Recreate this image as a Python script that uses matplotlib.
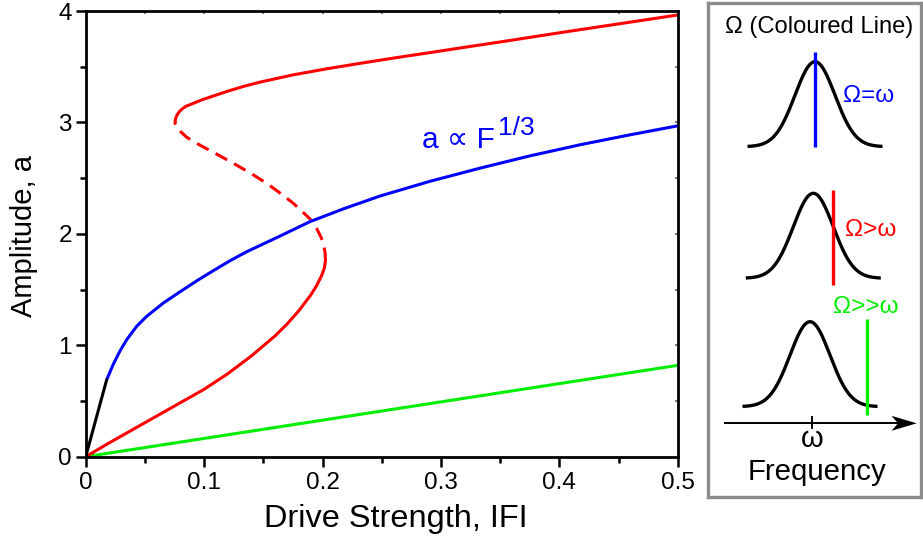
import numpy as np
import matplotlib
matplotlib.use("Agg")
import matplotlib.pyplot as plt
from matplotlib.patches import Polygon

plt.rcParams['font.family'] = ['Liberation Sans', 'DejaVu Sans']

# ---- response curves: drive strength |F| vs amplitude a ----
# linear (small drive) segment
lin_F = [0.0, 0.0177]
lin_a = [0.0, 0.69]

# Omega = omega branch (a ~ F^(1/3) at large drive)
blue_F = [0.0177, 0.0233, 0.029, 0.0346, 0.043, 0.0515, 0.0656, 0.0796, 0.094,
          0.1078, 0.122, 0.136, 0.150, 0.164, 0.1894, 0.219, 0.2486, 0.29,
          0.333, 0.375, 0.4175, 0.46, 0.5]
blue_a = [0.69, 0.83, 0.95, 1.05, 1.17, 1.26, 1.38, 1.48, 1.58,
          1.67, 1.76, 1.84, 1.91, 1.98, 2.11, 2.23, 2.34, 2.47,
          2.59, 2.70, 2.80, 2.89, 2.97]

# Omega > omega: lower stable branch
red_low_F = [0.0, 0.02, 0.04, 0.06, 0.08, 0.10, 0.12, 0.14, 0.16, 0.17, 0.18,
             0.19, 0.195, 0.199, 0.2015, 0.2025]
red_low_a = [0.0, 0.125, 0.245, 0.365, 0.485, 0.605, 0.745, 0.905, 1.085, 1.19,
             1.31, 1.45, 1.535, 1.62, 1.69, 1.76]

# Omega > omega: unstable middle branch
red_mid_F = [0.2025, 0.2022, 0.2012, 0.199, 0.195, 0.1894, 0.183, 0.1753,
             0.165, 0.1529, 0.140, 0.1247, 0.110, 0.0937, 0.085, 0.080,
             0.077, 0.0757, 0.0755]
red_mid_a = [1.76, 1.83, 1.89, 1.965, 2.05, 2.135, 2.20, 2.275,
             2.36, 2.454, 2.54, 2.634, 2.72, 2.813, 2.87, 2.92,
             2.96, 2.985, 3.0]

# Omega > omega: upper stable branch
red_up_F = [0.0755, 0.0757, 0.0764, 0.0776, 0.0793, 0.0815, 0.0845, 0.0909,
            0.098, 0.105, 0.119, 0.133, 0.147, 0.1753, 0.2035, 0.2317, 0.2598,
            0.2936, 0.3218, 0.35, 0.378, 0.406, 0.4343, 0.4625, 0.5]
red_up_a = [3.0, 3.025, 3.05, 3.075, 3.10, 3.122, 3.145, 3.172,
            3.203, 3.228, 3.278, 3.323, 3.362, 3.428, 3.482, 3.531, 3.578,
            3.632, 3.678, 3.723, 3.769, 3.815, 3.860, 3.905, 3.965]

# Omega >> omega: linear response
green_F = [0.0, 0.5]
green_a = [0.0, 0.82]

xticks = [0, 0.1, 0.2, 0.3, 0.4, 0.5]
xticklabels = ['0', '0.1', '0.2', '0.3', '0.4', '0.5']
yticks = [0, 1, 2, 3, 4]
yticklabels = ['0', '1', '2', '3', '4']

# ---- schematic panel: resonance peak and drive frequency ----
peak_centres = [815.0, 813.3, 810.0]     # peak position (px)
peak_bases = [146.7, 278.3, 406.7]       # baseline height (px)
peak_height = 85.0
peak_sigma = 20.0
peak_halfspan = 67.5
drive_x = [815.0, 833.3, 867.3]
drive_top = [51.7, 190.0, 319.3]
drive_bottom = [146.7, 285.0, 415.0]
drive_colors = ['#0000ff', '#ff0000', '#00ee00']
drive_labels = ['Ω=ω', 'Ω>ω', 'Ω>>ω']
drive_label_xy = [(843.0, 101.5), (845.0, 235.5), (833.0, 313.0)]

W, H = 923, 538
fig = plt.figure(figsize=(W / 100, H / 100), dpi=100)

x0, y0 = 85.7, 456.7
ax = fig.add_axes([x0 / W, 1 - y0 / H, 592 / W, 445.6 / H])

lw = 2.2
ax.plot(green_F, green_a, color='#00ee00', lw=lw, solid_capstyle='round')
ax.plot(red_low_F, red_low_a, color='#ff0000', lw=lw, solid_capstyle='round',
        solid_joinstyle='round')
ax.plot(red_mid_F, red_mid_a, color='#ff0000', lw=lw, linestyle=(0, (4.3, 2.6)))
ax.plot(red_up_F, red_up_a, color='#ff0000', lw=lw, solid_capstyle='round',
        solid_joinstyle='round')
ax.plot(blue_F, blue_a, color='#0000ff', lw=lw, solid_capstyle='round',
        solid_joinstyle='round')
ax.plot(lin_F, lin_a, color='black', lw=lw, solid_capstyle='round')

ax.set_xlim(0, 0.5)
ax.set_ylim(0, 4)
ax.set_xticks(xticks)
ax.set_xticklabels(xticklabels)
ax.set_yticks(yticks)
ax.set_yticklabels(yticklabels)
ax.set_xticks(np.arange(0.05, 0.5, 0.1), minor=True)
ax.set_yticks(np.arange(0.5, 4, 1.0), minor=True)
for s in ax.spines.values():
    s.set_linewidth(2.0)
ax.tick_params(which='major', direction='out', length=7, width=1.8,
               labelsize=17.5, pad=3)
ax.tick_params(which='minor', direction='out', length=4, width=1.8)
ax.tick_params(axis='x', which='major', pad=4)
# faint inward ticks on the top and right edges
axt = ax.secondary_xaxis('top')
axt.set_xticks(np.arange(0.05, 0.5, 0.05))
axt.tick_params(direction='in', length=2.5, width=1.2, colors='#666666',
                labelsize=0, labeltop=False)
axt.spines['top'].set_visible(False)
axr = ax.secondary_yaxis('right')
axr.set_yticks(np.arange(0.5, 4, 0.5))
axr.tick_params(direction='in', length=2.5, width=1.2, colors='#666666',
                labelsize=0, labelright=False)
axr.spines['right'].set_visible(False)

ax.text(0.2838, 2.768, 'a ∝ F', color='#0000ff', fontsize=21.5,
        ha='left', va='baseline')
ax.text(0.3485, 2.888, '1/3', color='#0000ff', fontsize=19,
        ha='left', va='baseline')

fig.text(396 / W, 1 - 526.7 / H, 'Drive Strength, IFI', fontsize=23.4,
         ha='center', va='baseline')
fig.text(24 / W, 1 - 236 / H, 'Amplitude, a', fontsize=21, rotation=90,
         ha='center', va='center')

# ---- schematic panel ----
bx0, bx1, by0, by1 = 708.3, 921.0, 3.3, 497.3
axp = fig.add_axes([bx0 / W, 1 - by1 / H, (bx1 - bx0) / W, (by1 - by0) / H])
axp.set_xlim(bx0, bx1)
axp.set_ylim(by1, by0)
axp.set_xticks([])
axp.set_yticks([])
for s in axp.spines.values():
    s.set_color('#8c8c8c')
    s.set_linewidth(2.4)

axp.text(725, 33.3, 'Ω (Coloured Line)', fontsize=17.1, ha='left',
         va='baseline')

for c, b, dx, dt, db, col, lab, (lx, ly) in zip(
        peak_centres, peak_bases, drive_x, drive_top, drive_bottom,
        drive_colors, drive_labels, drive_label_xy):
    fx = np.linspace(c - peak_halfspan, c + peak_halfspan, 300)
    fy = b - peak_height * np.exp(-0.5 * ((fx - c) / peak_sigma) ** 2)
    axp.plot(fx, fy, color='black', lw=2.4, solid_capstyle='butt')
    axp.plot([dx, dx], [dt, db], color=col, lw=2.4, solid_capstyle='butt')
    axp.text(lx, ly, lab, color=col, fontsize=17.5, ha='left', va='baseline')

# frequency axis with arrow
ay = 423.3
axp.plot([725, 900], [ay, ay], color='black', lw=1.4)
axp.add_patch(Polygon([(916.7, ay), (891.5, ay - 7.5), (898.0, ay),
                       (891.5, ay + 7.5)], closed=True, color='black', lw=0))
axp.plot([812.3, 812.3], [416.7, 428.3], color='black', lw=1.4)
axp.text(812.3, 446.7, 'ω', fontsize=21, ha='center', va='baseline')
axp.text(816.5, 480.0, 'Frequency', fontsize=21.2, ha='center', va='baseline')

fig.savefig('out.png', dpi=100)
